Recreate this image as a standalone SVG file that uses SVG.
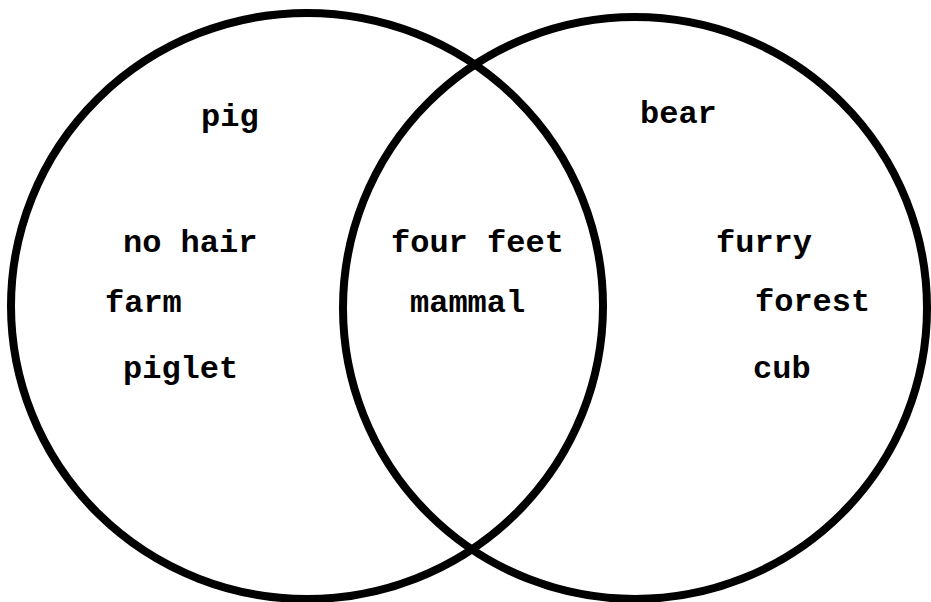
<svg xmlns="http://www.w3.org/2000/svg" width="931" height="602" viewBox="0 0 931 602">
<style>
.set{fill:none;stroke:#000;stroke-width:8}
.lbl{font-family:"Liberation Mono","DejaVu Sans Mono",monospace;font-weight:bold;font-size:32px;fill:#000}
</style>
<rect width="931" height="602" fill="#fff"/>
<g id="connectors"></g>
<g id="set-pig"><ellipse class="set" cx="307" cy="306" rx="296" ry="293"/></g>
<g id="set-bear"><ellipse class="set" cx="635" cy="308" rx="292" ry="291"/></g>
<g id="labels-pig">
<text class="lbl" x="201" y="126">pig</text>
<text class="lbl" x="123" y="252">no hair</text>
<text class="lbl" x="105" y="312">farm</text>
<text class="lbl" x="123" y="378">piglet</text>
</g>
<g id="labels-both">
<text class="lbl" x="391" y="252">four feet</text>
<text class="lbl" x="410" y="312">mammal</text>
</g>
<g id="labels-bear">
<text class="lbl" x="640" y="123">bear</text>
<text class="lbl" x="716" y="252">furry</text>
<text class="lbl" x="755" y="311">forest</text>
<text class="lbl" x="753" y="378">cub</text>
</g>
</svg>
